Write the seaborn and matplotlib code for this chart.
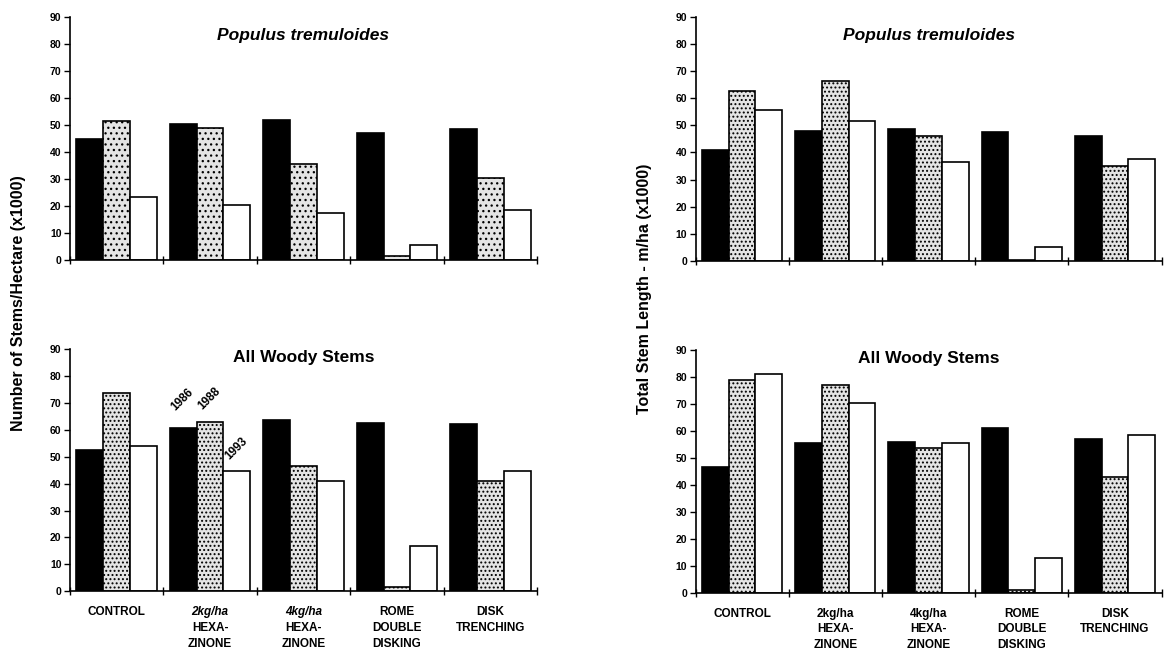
import numpy as np
import pandas as pd
import seaborn as sns
import matplotlib.pyplot as plt

# ========= data =========
treatments = ["CONTROL", "2kg/ha HEXA-ZINONE", "4kg/ha HEXA-ZINONE",
              "ROME DOUBLE DISKING", "DISK TRENCHING"]
years = ["1986", "1988", "1993"]

# Populus tremuloides - number of stems/ha (x1000)
pop_stems_1986 = [45, 50.5, 52, 47, 48.5]
pop_stems_1988 = [51.5, 49, 35.5, 1.5, 30.5]
pop_stems_1993 = [23.5, 20.5, 17.5, 5.5, 18.5]

# Populus tremuloides - total stem length m/ha (x1000)
pop_len_1986 = [41, 48, 48.5, 47.5, 46]
pop_len_1988 = [62.5, 66.5, 46, 0.3, 35]
pop_len_1993 = [55.5, 51.5, 36.5, 5, 37.5]

# All woody stems - number of stems/ha (x1000)
all_stems_1986 = [52.5, 60.5, 63.5, 62.5, 62]
all_stems_1988 = [73.5, 63, 46.5, 1.5, 41]
all_stems_1993 = [54, 44.5, 41, 17, 44.5]

# All woody stems - total stem length m/ha (x1000)
all_len_1986 = [46.5, 55.5, 56, 61, 57]
all_len_1988 = [79, 77, 53.5, 1, 43]
all_len_1993 = [81, 70.5, 55.5, 13, 58.5]

# category labels, one list of lines per group
group_lines = [["CONTROL"], ["2kg/ha", "HEXA-", "ZINONE"], ["4kg/ha", "HEXA-", "ZINONE"],
               ["ROME", "DOUBLE", "DISKING"], ["DISK", "TRENCHING"]]


def long_df(v86, v88, v93):
    rows = []
    for yr, vals in zip(years, [v86, v88, v93]):
        for t, v in zip(treatments, vals):
            rows.append({"treatment": t, "year": yr, "value": v})
    return pd.DataFrame(rows)


# ========= style =========
sns.set_style("ticks")
plt.rcParams['font.family'] = ['Liberation Sans', 'DejaVu Sans']
plt.rcParams['text.color'] = 'black'
plt.rcParams['axes.labelcolor'] = 'black'
plt.rcParams['xtick.color'] = 'black'
plt.rcParams['ytick.color'] = 'black'
plt.rcParams['hatch.linewidth'] = 0.9

palette = {"1986": "black", "1988": "#e4e4e4", "1993": "white"}
bar_width = 0.86

fig = plt.figure(figsize=(11.65, 6.52), dpi=100)
ax_tl = fig.add_axes([0.060, 0.601, 0.401, 0.373])
ax_tr = fig.add_axes([0.597, 0.600, 0.400, 0.374])
ax_bl = fig.add_axes([0.060, 0.093, 0.401, 0.372])
ax_br = fig.add_axes([0.597, 0.091, 0.400, 0.372])

panels = [
    (ax_tl, long_df(pop_stems_1986, pop_stems_1988, pop_stems_1993), "Populus tremuloides", "italic", None, "..."),
    (ax_tr, long_df(pop_len_1986, pop_len_1988, pop_len_1993), "Populus tremuloides", "italic", None, "...."),
    (ax_bl, long_df(all_stems_1986, all_stems_1988, all_stems_1993), "All Woody Stems", "normal", "italic", "...."),
    (ax_br, long_df(all_len_1986, all_len_1988, all_len_1993), "All Woody Stems", "normal", "normal", "...."),
]

for ax, df, title, tstyle, label_style, hatch in panels:
    sns.barplot(data=df, x="treatment", y="value", hue="year", hue_order=years,
                palette=palette, saturation=1, width=bar_width, edgecolor="black",
                linewidth=1.2, legend=False, ax=ax)
    # stippled 1988 bars
    for p in ax.containers[1]:
        p.set_hatch(hatch)

    ax.set_xlim(-0.5, 4.5)
    ax.set_ylim(0, 90)
    ax.set_yticks(np.arange(0, 91, 10))
    ax.set_xlabel("")
    ax.set_ylabel("")

    # boundary ticks between groups
    ax.set_xticks(np.arange(-0.5, 5, 1))
    ax.set_xticklabels([])
    ax.tick_params(axis='x', which='major', direction='inout', length=6, width=1)
    ax.tick_params(axis='y', direction='out', length=4, width=1, labelsize=7.5, pad=2)
    for lab in ax.get_yticklabels():
        lab.set_fontweight('bold')

    if label_style is not None:
        for i, lines in enumerate(group_lines):
            for j, line in enumerate(lines):
                style = label_style if "kg/ha" in line else "normal"
                ax.annotate(line, xy=(i, 0), xycoords=('data', 'axes fraction'),
                            xytext=(0, -15 - j * 11.3), textcoords='offset points',
                            ha='center', va='center', fontsize=8.5, fontweight='bold',
                            fontstyle=style)

    sns.despine(ax=ax)
    for s in ['left', 'bottom']:
        ax.spines[s].set_linewidth(1.2)
        ax.spines[s].set_color('black')

    ax.text(0.5, 0.925 if tstyle == "italic" else 0.965, title, transform=ax.transAxes,
            ha='center', va='center', fontsize=12.5, fontweight='bold', fontstyle=tstyle)

# year labels over the 2kg/ha group (bottom-left panel)
step = bar_width / 3
vals_2kg = [all_stems_1986[1], all_stems_1988[1], all_stems_1993[1]]
for i, (yr, v) in enumerate(zip(years, vals_2kg)):
    xpos = 1 + (i - 1) * step - 0.06
    ax_bl.text(xpos, v + (5.5 if i == 0 else 3.5), yr, rotation=45, rotation_mode='anchor',
               ha='left', va='bottom', fontsize=8.5, fontweight='bold')

fig.text(0.016, 0.535, "Number of Stems/Hectare (x1000)", rotation=90, ha='center', va='center',
         fontsize=11.5, fontweight='bold')
fig.text(0.553, 0.557, "Total Stem Length - m/ha (x1000)", rotation=90, ha='center', va='center',
         fontsize=11.5, fontweight='bold')

fig.savefig("out.png", dpi=100, facecolor='white')
